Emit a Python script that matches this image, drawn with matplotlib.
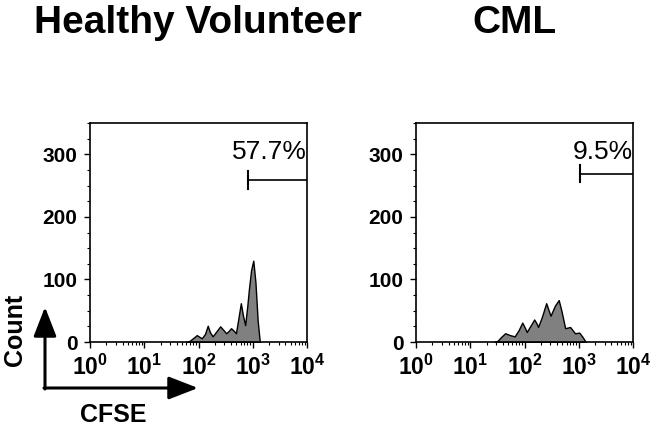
import matplotlib
matplotlib.use("Agg")
import matplotlib.pyplot as plt
from matplotlib.ticker import MultipleLocator, LogLocator, NullFormatter

plt.rcParams['font.family'] = ['Liberation Sans', 'DejaVu Sans']
plt.rcParams['mathtext.fontset'] = 'custom'
plt.rcParams['mathtext.rm'] = 'Liberation Sans:bold'
plt.rcParams['mathtext.bf'] = 'Liberation Sans:bold'
plt.rcParams['mathtext.it'] = 'Liberation Sans:bold'

# CFSE intensity vs count
healthy_cfse = [60, 69, 79, 93, 105, 115, 132, 148, 162, 182, 214, 251, 282, 324,
                363, 398, 447, 490, 537, 603, 661, 724, 794, 851, 933, 1023,
                1122, 1230, 1349]
healthy_count = [0, 2, 6, 11, 8, 6, 13, 26, 16, 9, 17, 25, 20, 14,
                 18, 22, 18, 14, 35, 62, 42, 27, 58, 85, 115, 130,
                 95, 35, 0]

cml_cfse = [28, 32, 37, 44, 54, 66, 78, 91, 100, 110, 129, 151, 166, 178, 209,
            251, 275, 302, 363, 427, 479, 562, 692, 851, 1023, 1175, 1349]
cml_count = [0, 2, 8, 14, 11, 9, 19, 31, 24, 16, 26, 36, 30, 24, 40,
             62, 52, 42, 58, 67, 50, 22, 24, 14, 15, 8, 0]

titles = ["Healthy Volunteer", "CML"]
percents = ["57.7%", "9.5%"]
gate_start = [815, 1050]
gate_y = [259, 269]
gate_half = [15, 14]

x_tick_vals = [1, 10, 100, 1000, 10000]
x_tick_labels = [r'$\mathbf{10^{0}}$', r'$\mathbf{10^{1}}$', r'$\mathbf{10^{2}}$',
                 r'$\mathbf{10^{3}}$', r'$\mathbf{10^{4}}$']

fig = plt.figure(figsize=(6.52, 4.29), dpi=100)
ax1 = fig.add_axes([90 / 652, 87 / 429, 217 / 652, 219 / 429])
ax2 = fig.add_axes([416 / 652, 87 / 429, 217 / 652, 219 / 429])

series = [(healthy_cfse, healthy_count), (cml_cfse, cml_count)]
for i, ax in enumerate([ax1, ax2]):
    xs, ys = series[i]
    ax.fill_between(xs, ys, 0, facecolor='#808080', edgecolor='black', linewidth=1.0)
    ax.set_xscale('log')
    ax.set_xlim(1, 10000)
    ax.set_ylim(0, 350)
    ax.set_xticks(x_tick_vals, labels=x_tick_labels)
    ax.xaxis.set_minor_locator(LogLocator(base=10, subs=range(2, 10), numticks=20))
    ax.xaxis.set_minor_formatter(NullFormatter())
    ax.set_yticks([0, 100, 200, 300])
    ax.yaxis.set_minor_locator(MultipleLocator(25))
    for lab in ax.get_yticklabels():
        lab.set_fontweight('bold')
    ax.tick_params(which='major', direction='out', length=4, width=1,
                   labelsize=15, pad=5)
    ax.tick_params(axis='x', which='major', labelsize=16.5, pad=5)
    ax.tick_params(which='minor', direction='out', length=2, width=0.8)
    for s in ax.spines.values():
        s.set_linewidth(1.2)

    # gate marker
    ax.plot([gate_start[i], 10000], [gate_y[i], gate_y[i]], color='black', lw=1.2)
    ax.plot([gate_start[i], gate_start[i]],
            [gate_y[i] - gate_half[i], gate_y[i] + gate_half[i]], color='black', lw=1.5)
    ax.text(10000, 293, percents[i], ha='right', va='baseline', fontsize=19)

fig.text(198 / 652, 1 - 23 / 429, titles[0], ha='center', va='center',
         fontsize=28, fontweight='bold')
fig.text(514 / 652, 1 - 23 / 429, titles[1], ha='center', va='center',
         fontsize=28, fontweight='bold')

# CFSE / Count axis arrows
arrow_kw = dict(arrowstyle='-|>,head_length=0.9,head_width=0.35',
                mutation_scale=20, lw=2.2, color='black', shrinkA=0, shrinkB=0)
fig.add_artist(matplotlib.patches.FancyArrowPatch(
    (45 / 652, 1 - 389 / 429), (45 / 652, 1 - 307 / 429),
    transform=fig.transFigure, **arrow_kw))
fig.add_artist(matplotlib.patches.FancyArrowPatch(
    (44 / 652, 1 - 388 / 429), (198 / 652, 1 - 388 / 429),
    transform=fig.transFigure, **arrow_kw))
fig.text(15 / 652, 1 - 330 / 429, "Count", rotation=90, ha='center', va='center',
         fontsize=18, fontweight='bold')
fig.text(113 / 652, 1 - 415 / 429, "CFSE", ha='center', va='center',
         fontsize=18, fontweight='bold')

fig.savefig("out.png", dpi=100)
